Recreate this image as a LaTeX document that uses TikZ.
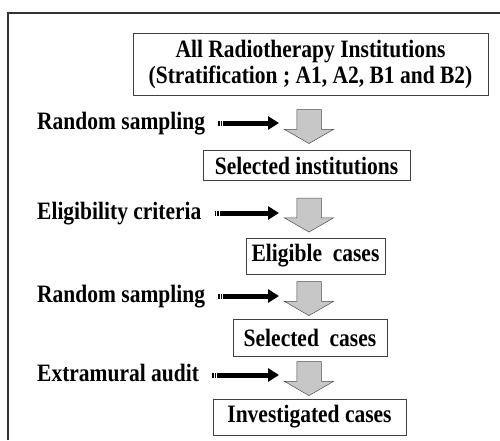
\documentclass[tikz,border=0pt]{standalone}
\usepackage{fontspec}
\setmainfont[FakeStretch=0.86]{Liberation Serif}
\usetikzlibrary{shapes.arrows,arrows.meta}

\tikzset{
    stage/.style={draw=black!75, line width=0.6pt, align=center, inner sep=0pt,
        font=\fontsize{25}{26}\selectfont\bfseries},
    steplabel/.style={anchor=west, inner sep=0pt, text height=17pt, text depth=5pt,
        font=\fontsize{25}{26}\selectfont\bfseries},
    grayarrow/.style={shape=single arrow, rotate=-90, draw=black!70, line width=0.5pt,
        fill=black!22, inner xsep=0pt, inner ysep=12pt, minimum height=34pt,
        single arrow head extend=12.5pt, single arrow tip angle=120},
    feed/.style={line width=5pt, -{Triangle[length=11pt,width=13pt]}},
    ticks/.style={line width=5pt, dash pattern=on 1.3pt off 1.3pt},
}

\begin{document}
\begin{tikzpicture}[x=1pt,y=-1pt]
    \useasboundingbox (0,0) rectangle (500,440);
    \draw[line width=1.2pt, black!80] (8,440) -- (8,13) -- (500,13); % outer frame, cut at right and bottom

    \node[stage, minimum width=355pt, minimum height=62pt] (all) at (310.5,64) {All Radiotherapy Institutions\\(Stratification ; A1, A2, B1 and B2)};
    \node[stage, minimum width=207pt, minimum height=30pt] (selinst) at (306.5,165.5) {Selected institutions};
    \node[stage, minimum width=139pt, minimum height=36pt] (elig) at (315.5,256) {Eligible\ \ cases};
    \node[stage, minimum width=154pt, minimum height=37pt] (selcase) at (310,337.5) {Selected\ \ cases};
    \node[stage, minimum width=193pt, minimum height=36pt] (invest) at (309.5,417) {Investigated cases};

    \node[grayarrow] (ga1) at (309,123) {};
    \node[grayarrow] (ga2) at (309,211.5) {};
    \node[grayarrow] (ga3) at (309,295) {};
    \node[grayarrow] (ga4) at (309,375) {};

    \node[steplabel] (rs1) at (37,123) {Random sampling};
    \node[steplabel] (crit) at (37,213) {Eligibility criteria};
    \node[steplabel] (rs2) at (37,296) {Random sampling};
    \node[steplabel] (audit) at (37,375) {Extramural audit};

    \draw[ticks] ([xshift=13pt]rs1.east) -- ([xshift=19pt]rs1.east);
    \draw[feed, shorten <=19pt, shorten >=30pt] (rs1.east) -- (rs1.east -| ga1.center);
    \draw[ticks] ([xshift=13pt]crit.east) -- ([xshift=19pt]crit.east);
    \draw[feed, shorten <=19pt, shorten >=30pt] (crit.east) -- (crit.east -| ga2.center);
    \draw[ticks] ([xshift=13pt]rs2.east) -- ([xshift=19pt]rs2.east);
    \draw[feed, shorten <=19pt, shorten >=30pt] (rs2.east) -- (rs2.east -| ga3.center);
    \draw[ticks] ([xshift=13pt]audit.east) -- ([xshift=19pt]audit.east);
    \draw[feed, shorten <=19pt, shorten >=30pt] (audit.east) -- (audit.east -| ga4.center);
\end{tikzpicture}
\end{document}
